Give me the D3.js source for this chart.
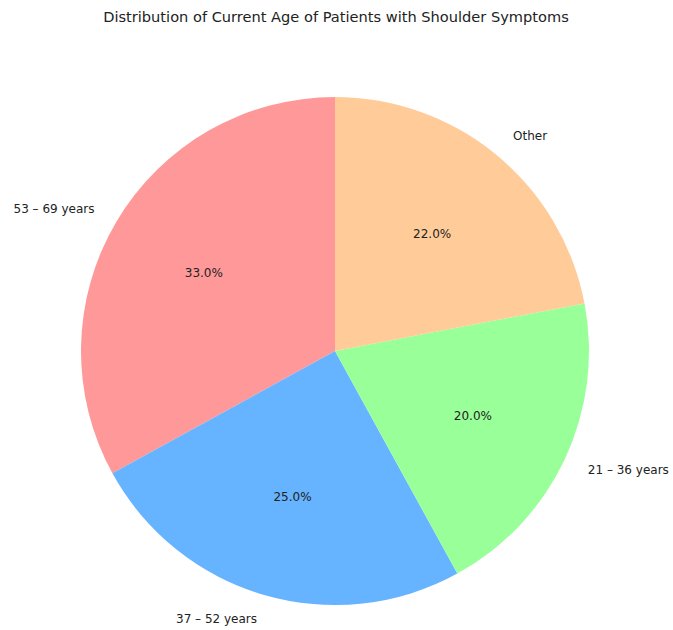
<!DOCTYPE html>
<html>
<head>
<meta charset="utf-8">
<script src="https://cdn.jsdelivr.net/npm/d3@7"></script>
<style>
  html, body { margin: 0; padding: 0; background: #ffffff; }
  svg text { font-family: "DejaVu Sans", sans-serif; }
</style>
</head>
<body>
<svg id="chart" width="673" height="630"></svg>
<script>
// Age groups and their share of patients (percent)
const categories = ["53 – 69 years", "37 – 52 years", "21 – 36 years", "Other"];
const shares = [33.0, 25.0, 20.0, 22.0];
const colors = ["#ff9999", "#66b3ff", "#99ff99", "#ffcc99"];
const title = "Distribution of Current Age of Patients with Shoulder Symptoms";

const svg = d3.select("#chart");
const cx = 335, cy = 351, radius = 254;

svg.append("text")
  .attr("x", 336)
  .attr("y", 22)
  .attr("text-anchor", "middle")
  .attr("font-size", "14.6px")
  .attr("fill", "#222")
  .text(title);

const data = categories.map((c, i) => ({ label: c, value: shares[i], color: colors[i] }));

// Wedges start at 12 o'clock and run counter-clockwise
const pie = d3.pie()
  .sort(null)
  .value(d => d.value)
  .startAngle(0)
  .endAngle(-2 * Math.PI);

const arcs = pie(data);
const g = svg.append("g").attr("transform", `translate(${cx},${cy})`);

const wedge = d3.arc().innerRadius(0).outerRadius(radius);
const pctArc = d3.arc().innerRadius(radius * 0.6).outerRadius(radius * 0.6);
const lblArc = d3.arc().innerRadius(radius * 1.1).outerRadius(radius * 1.1);

g.selectAll("path.wedge")
  .data(arcs)
  .join("path")
  .attr("class", "wedge")
  .attr("d", wedge)
  .attr("fill", d => d.data.color);

g.selectAll("text.pct")
  .data(arcs)
  .join("text")
  .attr("class", "pct")
  .attr("transform", d => `translate(${pctArc.centroid(d)})`)
  .attr("text-anchor", "middle")
  .attr("dominant-baseline", "central")
  .attr("font-size", "12px")
  .attr("fill", "#222")
  .text(d => d.data.value.toFixed(1) + "%");

g.selectAll("text.lbl")
  .data(arcs)
  .join("text")
  .attr("class", "lbl")
  .attr("transform", d => `translate(${lblArc.centroid(d)})`)
  .attr("text-anchor", d => lblArc.centroid(d)[0] >= 0 ? "start" : "end")
  .attr("dominant-baseline", "central")
  .attr("font-size", "12px")
  .attr("fill", "#222")
  .text(d => d.data.label);
</script>
</body>
</html>
